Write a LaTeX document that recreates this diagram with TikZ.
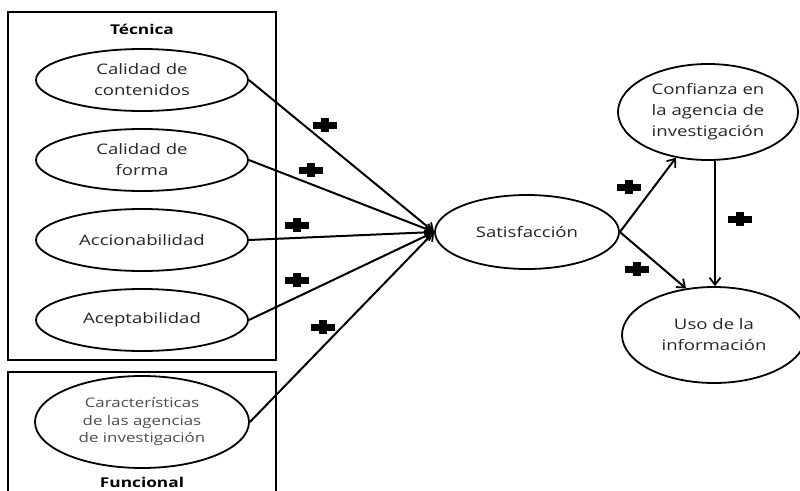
\documentclass[tikz,border=0pt]{standalone}
\usepackage{fontspec}
\setmainfont{Open Sans}[FakeStretch=1.28]
\usetikzlibrary{shapes.geometric,arrows.meta}
\tikzset{
  oval/.style={ellipse, draw, line width=1.8pt, inner sep=0pt, align=center,
    font=\fontsize{14.5}{21}\selectfont, text=black!85},
  groupbox/.style={draw, line width=2pt},
  grouptitle/.style={font=\bfseries\fontsize{13.5}{16}\selectfont},
  link/.style={line width=2pt, -{Straight Barb[length=7pt,width=11pt,line width=1.8pt]}},
  plusmark/.pic={\fill (-12,-3.5) rectangle (12,3.5); \fill (-4,-7) rectangle (4,7);}
}
\begin{document}
\begin{tikzpicture}[x=1pt,y=-1pt]
\useasboundingbox (0,0) rectangle (800,490);
% group boxes
\draw[groupbox] (8,12) rectangle (276,360);
\node[grouptitle] (tec) at (142,29) {Técnica};
\draw[groupbox] (8,495) -- (8,372) -- (276,372) -- (276,495);
\node[grouptitle] (fun) at (142,482) {Funcional};
% left ovals
\node[oval, minimum width=212pt, minimum height=62pt] (c1) at (142,80) {Calidad de\\contenidos};
\node[oval, minimum width=212pt, minimum height=62pt] (c2) at (142,160) {Calidad de\\forma};
\node[oval, minimum width=212pt, minimum height=62pt] (c3) at (142,240) {Accionabilidad};
\node[oval, minimum width=212pt, minimum height=62pt] (c4) at (142,320) {Aceptabilidad};
\node[oval, minimum width=214pt, minimum height=92pt, font=\fontsize{13.2}{17.5}\selectfont, text=black!70] (c5) at (142,422) {Características\\de las agencias\\de investigación};
% right ovals
\node[oval, minimum width=184pt, minimum height=74pt] (sat) at (527,232) {Satisfacción};
\node[oval, minimum width=180pt, minimum height=96pt] (conf) at (708,112) {Confianza en\\la agencia de\\investigación};
\node[oval, minimum width=184pt, minimum height=96pt] (uso) at (714,335) {Uso de la\\información};
% connectors
\draw[link] (c1.east) -- (sat.west);
\draw[link] (c2.east) -- (sat.west);
\draw[link] (c3.east) -- (sat.west);
\draw[link] (c4.east) -- (sat.west);
\draw[link] (c5.east) -- (sat.west);
\draw[link] (sat.east) -- (conf.235);
\draw[link] (sat.east) -- (uso.121);
\draw[link] (conf.south -| 715,0) -- (uso.north -| 715,0);
% plus signs
\pic at (325,125) {plusmark};
\pic at (311,170) {plusmark};
\pic at (297,225) {plusmark};
\pic at (297,280) {plusmark};
\pic at (323,327) {plusmark};
\pic at (629,187) {plusmark};
\pic at (637,269) {plusmark};
\pic at (740,219) {plusmark};
\end{tikzpicture}
\end{document}
